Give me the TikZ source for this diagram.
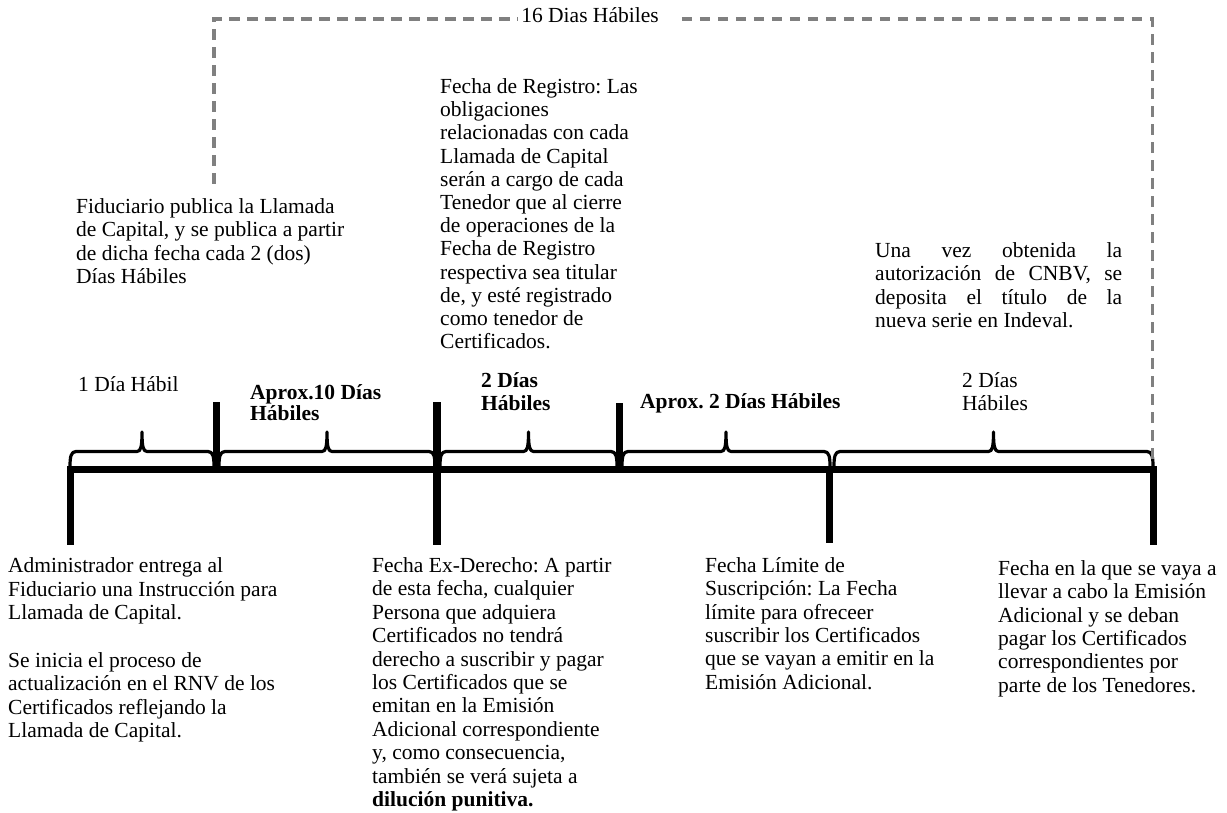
\documentclass[tikz,border=0pt]{standalone}
\usepackage{fontspec}
\setmainfont{Liberation Serif}
\frenchspacing
\definecolor{spangray}{RGB}{128,128,128}
% brace over one interval of the time line: #1 = left end, #2 = right end
\newcommand\timebrace[2]{%
  \draw[tbrace] (#1,466) .. controls (#1,457) and ({#1+1},451.5) .. ({#1+6},451.5)
    -- ({(#1+#2)/2-5},451.5) .. controls ({(#1+#2)/2-1},451.5) and ({(#1+#2)/2},446) .. ({(#1+#2)/2},432)
    .. controls ({(#1+#2)/2},446) and ({(#1+#2)/2+1},451.5) .. ({(#1+#2)/2+5},451.5)
    -- ({#2-6},451.5) .. controls ({#2-1},451.5) and (#2,457) .. (#2,466);}
\begin{document}
\begin{tikzpicture}[x=1pt,y=-1pt,
  txt/.style={font=\fontsize{21.5}{23.3}\selectfont, inner sep=0pt, align=left, anchor=base west},
  axis/.style={line width=6.5pt},
  tick/.style={line width=7.5pt},
  tbrace/.style={line width=3.2pt, line join=round},
  span/.style={draw=spangray, line width=3.5pt, dash pattern=on 10.5pt off 7.5pt}]
\useasboundingbox (0,0) rectangle (1227,813);

% time axis and its marks
\draw[axis] (67,469.5) -- (1157,469.5);
\draw[tick] (70.5,466) -- (70.5,545);
\draw[tick] (216.5,402) -- (216.5,470);
\draw[tick] (437,402) -- (437,545);
\draw[tick] (619.5,403) -- (619.5,470);
\draw[tick] (829.5,466) -- (829.5,543);
\draw[tick] (1153.5,466) -- (1153.5,545);

% interval braces
\timebrace{70}{214}
\timebrace{219}{435}
\timebrace{440}{617}
\timebrace{622}{830}
\timebrace{834}{1153}

% overall span
\node[txt, anchor=base, inner xsep=3pt] (span) at (590,22.5) {16 Dias Hábiles};
\draw[span] (214,184) -- (214,19) -- (span.west |- 0,19);
\draw[span] (span.east |- 0,19) ++(20,0) -- (1152.5,19) -- (1152.5,466);

% interval labels (multi-line nodes are placed by the baseline of their last line)
\node[txt] (l1) at (78,391.5) {1 Día Hábil};
\node[txt, font=\fontsize{21.5}{21}\selectfont\bfseries] (l2) at (250,420.5) {Aprox.10 Días\\Hábiles};
\node[txt, font=\fontsize{21.5}{23}\selectfont\bfseries] (l3) at (481,410.5) {2 Días\\Hábiles};
\node[txt, font=\fontsize{21.5}{23}\selectfont\bfseries] (l4) at (640,408.5) {Aprox. 2 Días Hábiles};
\node[txt, font=\fontsize{21.5}{23}\selectfont] (l5) at (962,410.5) {2 Días\\Hábiles};

% notes above the axis
\node[txt] (fid) at (76,283.4) {Fiduciario publica la Llamada\\de Capital, y se publica a partir\\de dicha fecha cada 2 (dos)\\Días Hábiles};
\node[txt, font=\fontsize{21.5}{23.2}\selectfont] (reg) at (440,348.7) {Fecha de Registro: Las\\obligaciones\\relacionadas con cada\\Llamada de Capital\\serán a cargo de cada\\Tenedor que al cierre\\de operaciones de la\\Fecha de Registro\\respectiva sea titular\\de, y esté registrado\\como tenedor de\\Certificados.};
\node[txt] (cnbv) at (875,327.4) {\makebox[247pt][s]{Una vez obtenida la}\\\makebox[247pt][s]{autorización de CNBV, se}\\\makebox[247pt][s]{deposita el título de la}\\nueva serie en Indeval.};

% notes below the axis
\node[txt, font=\fontsize{21.5}{23.5}\selectfont] (adm) at (8,737.5) {Administrador entrega al\\Fiduciario una Instrucción para\\Llamada de Capital.\\[24pt]Se inicia el proceso de\\actualización en el RNV de los\\Certificados reflejando la\\Llamada de Capital.};
\node[txt, font=\fontsize{21.5}{23.4}\selectfont] (exd) at (372,806.5) {Fecha Ex-Derecho: A partir\\de esta fecha, cualquier\\Persona que adquiera\\Certificados no tendrá\\derecho a suscribir y pagar\\los Certificados que se\\emitan en la Emisión\\Adicional correspondiente\\y, como consecuencia,\\también se verá sujeta a\\\textbf{dilución punitiva.}};
\node[txt] (lim) at (705,689) {Fecha Límite de\\Suscripción: La Fecha\\límite para ofreceer\\suscribir los Certificados\\que se vayan a emitir en la\\Emisión Adicional.};
\node[txt] (emi) at (998,692) {Fecha en la que se vaya a\\llevar a cabo la Emisión\\Adicional y se deban\\pagar los Certificados\\correspondientes por\\parte de los Tenedores.};
\end{tikzpicture}
\end{document}
